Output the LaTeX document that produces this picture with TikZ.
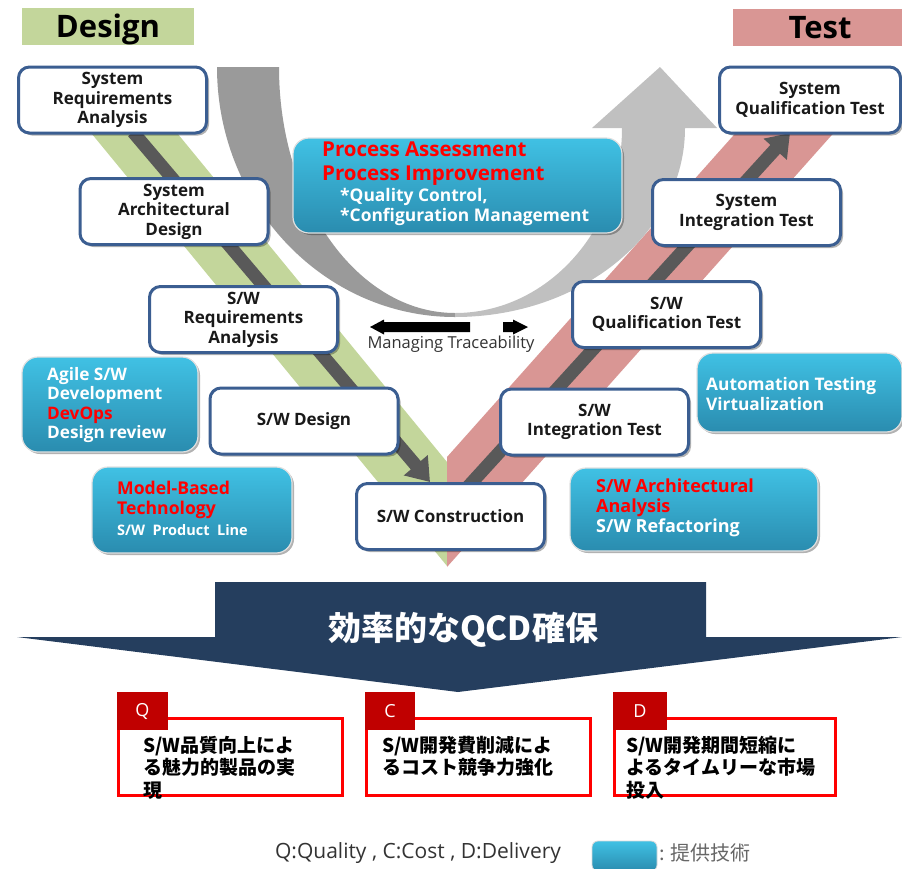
\documentclass[tikz,border=0pt]{standalone}
\usepackage{fontspec}
\setmainfont{Open Sans}
\newfontfamily\jp{Noto Sans CJK JP}
\usetikzlibrary{arrows.meta,shadows}
\definecolor{boxblue}{RGB}{59,94,145}
\definecolor{dgreen}{RGB}{195,214,155}
\definecolor{tpink}{RGB}{217,150,148}
\definecolor{darkline}{RGB}{89,89,89}
\definecolor{grayL}{RGB}{154,154,154}
\definecolor{grayR}{RGB}{192,192,192}
\definecolor{cyanT}{RGB}{64,193,228}
\definecolor{cyanB}{RGB}{42,140,175}
\definecolor{navy}{RGB}{37,62,94}
\definecolor{labred}{RGB}{192,0,0}
\definecolor{txtred}{RGB}{255,0,0}
\newcommand{\fsz}[2]{\fontsize{#1}{#2}\selectfont}
\begin{document}
\begin{tikzpicture}[x=1pt,y=-1pt,
  wbox/.style={draw=boxblue, line width=3pt, fill=white, rounded corners=11pt,
    minimum width=188pt, minimum height=66pt, inner sep=2pt, align=center,
    text=black!90, font=\bfseries\fsz{17}{19.5},
    drop shadow={shadow xshift=2.5pt, shadow yshift=-2.5pt, fill=black, opacity=0.3}},
  cbox/.style={rounded corners=16pt, top color=cyanT, bottom color=cyanB,
    draw=white!88!black, line width=1.2pt, inner sep=0pt,
    drop shadow={shadow xshift=2pt, shadow yshift=-2pt, fill=black, opacity=0.3}},
  ctxt/.style={inner sep=0pt, anchor=west, align=left, text=white, font=\bfseries\fsz{17.2}{19.3}},
  darrow/.style={draw=darkline, line width=13pt, -{Triangle[width=30pt,length=22pt]}},
  rbox/.style={draw=txtred, line width=3pt, fill=white, minimum height=77pt, inner sep=0pt,
    drop shadow={shadow xshift=1.5pt, shadow yshift=-1.5pt, fill=black, opacity=0.3}},
  lab/.style={fill=labred, minimum height=38pt, inner sep=0pt, text=white, font=\fsz{18}{20}},
  jtxt/.style={inner sep=0pt, anchor=west, align=left, text=black, font=\jp\bfseries\fsz{19}{22.5}},
  hdr/.style={minimum height=37pt, inner sep=0pt, text height=22pt, text depth=0pt,
    font=\bfseries\fsz{31}{32}, text=black}
]
\useasboundingbox (0,0) rectangle (902,868);

% headers
\node[hdr, fill=dgreen, minimum width=172pt] (design) at (108,26.5) {Design};
\node[hdr, fill=tpink, minimum width=169pt] (test) at (817.5,27.5) {\hspace*{5pt}Test};

% V bands
\fill[dgreen] (64,100) -- (150,100) -- (447,462) -- (447,566) -- cycle;
\fill[tpink] (447,457) -- (765,100) -- (863,100) -- (447,567) -- cycle;

% dark arrows along the V
\coordinate (la) at (133,132);
\coordinate (lb) at (430,482);
\coordinate (ra) at (465,490);
\coordinate (rb) at (790,133);
\draw[darrow] (la) -- (lb);
\draw[darrow] (ra) -- (rb);

% grey curved arrow
\fill[grayL] (217,67) -- (279,67) .. controls (279,203) and (358,313) .. (455,313)
  -- (455,317) .. controls (324,317) and (217,205) .. (217,67) -- cycle;
\fill[grayR] (455,317) .. controls (582,317) and (685,232) .. (685,128)
  -- (717,128) -- (660,67) -- (592,128) -- (622,128)
  .. controls (622,230) and (547,313) .. (455,313) -- cycle;

% traceability arrows
\fill[black] (370,327) -- (384,319.5) -- (384,322) -- (470,322) -- (470,332) -- (384,332) -- (384,334.5) -- cycle;
\fill[black] (503,322) -- (513,322) -- (513,319.5) -- (528,327) -- (513,334.5) -- (513,332) -- (503,332) -- cycle;
\node[inner sep=0pt, text=black!80, font=\fsz{16.5}{18}] (trace) at (451,344) {Managing Traceability};

% V-model boxes
\node[wbox] (sysreq) at (112.5,100) {System\\Requirements\\Analysis};
\node[wbox] (sysarch) at (174,211.5) {System\\Architectural\\Design};
\node[wbox] (swreq) at (243.5,319.5) {S/W\\Requirements\\Analysis};
\node[wbox] (swdes) at (304,421) {S/W Design};
\node[wbox] (swcon) at (450.5,516.5) {S/W Construction};
\node[wbox] (swint) at (594.5,422) {S/W\\Integration Test};
\node[wbox] (swqual) at (666.5,314.5) {S/W\\Qualification Test};
\node[wbox] (sysint) at (746.5,212.5) {System\\Integration Test};
\node[wbox, minimum width=181pt] (sysqual) at (810,100) {System\\Qualification Test};

% cyan technology boxes
\node[cbox, minimum width=329pt, minimum height=95pt] (proc) at (457.5,185.5) {};
\node[ctxt, text=txtred, font=\bfseries\fsz{20.5}{24}] (proct) at (322,164) {Process Assessment\\Process Improvement};
\node[ctxt, font=\bfseries\fsz{17.4}{20}] (procw) at (340,207) {*Quality Control,\\*Configuration Management};

\node[cbox, minimum width=176pt, minimum height=95pt] (agile) at (110,404.5) {};
\node[ctxt] (agilet) at (47,405) {Agile S/W\\Development\\\textcolor{txtred}{DevOps}\\Design review};

\node[cbox, minimum width=200pt, minimum height=86pt] (model) at (192,510) {};
\node[ctxt, text=txtred, font=\bfseries\fsz{17.6}{20}] (modelt) at (117,500) {Model-Based\\Technology};
\node[ctxt, font=\bfseries\fsz{14.5}{16}] (modelw) at (117,530) {S/W\ \ Product\ \ Line};

\node[cbox, minimum width=205pt, minimum height=79pt] (auto) at (799.5,392.5) {};
\node[ctxt, font=\bfseries\fsz{17.3}{20}] (autot) at (706,394) {Automation Testing\\Virtualization};

\node[cbox, minimum width=248pt, minimum height=83pt] (arch) at (694,509.5) {};
\node[ctxt, text=txtred, font=\bfseries\fsz{18}{20}] (archt) at (596,498) {S/W Architectural\\Analysis};
\node[ctxt, font=\bfseries\fsz{18}{20}] (archw) at (596,528) {S/W Refactoring};

% QCD arrow
\fill[navy] (215,582) -- (706,582) -- (706,637) -- (902,637) -- (458,692) -- (17,637) -- (215,637) -- cycle;
\node[inner sep=0pt, text=white, font=\jp\bfseries\fsz{33}{36}] (qcd) at (463,630) {効率的なQCD確保};

% Q C D boxes
\node[rbox, minimum width=224pt] (qbox) at (230.5,757) {};
\node[rbox, minimum width=224pt] (cbox) at (478.5,757) {};
\node[rbox, minimum width=221pt] (dbox) at (725,757) {};
\node[lab, minimum width=51pt] (qlab) at (142.5,711) {Q};
\node[lab, minimum width=50pt] (clab) at (390,711) {C};
\node[lab, minimum width=54pt] (dlab) at (640,711) {D};
\node[jtxt] (qtxt) at (143,767.5) {S/W品質向上によ\\る魅力的製品の実\\現};
\node[jtxt] (ctxt) at (382,756.5) {S/W開発費削減によ\\るコスト競争力強化};
\node[jtxt] (dtxt) at (626,767.5) {S/W開発期間短縮に\\よるタイムリーな市場\\投入};

% legend
\node[inner sep=0pt, text=black!80, font=\fsz{21}{22}] (legend) at (418,853) {Q:Quality , C:Cost , D:Delivery};
\node[rounded corners=6pt, top color=cyanT, bottom color=cyanB, draw=white!85!black, line width=0.8pt,
  minimum width=65pt, minimum height=30pt, inner sep=0pt] (swatch) at (624.5,856) {};
\node[inner sep=0pt, anchor=west, text=black!60, font=\jp\fsz{20}{22}] (legtxt) at (659,853) {: 提供技術};
\end{tikzpicture}
\end{document}
